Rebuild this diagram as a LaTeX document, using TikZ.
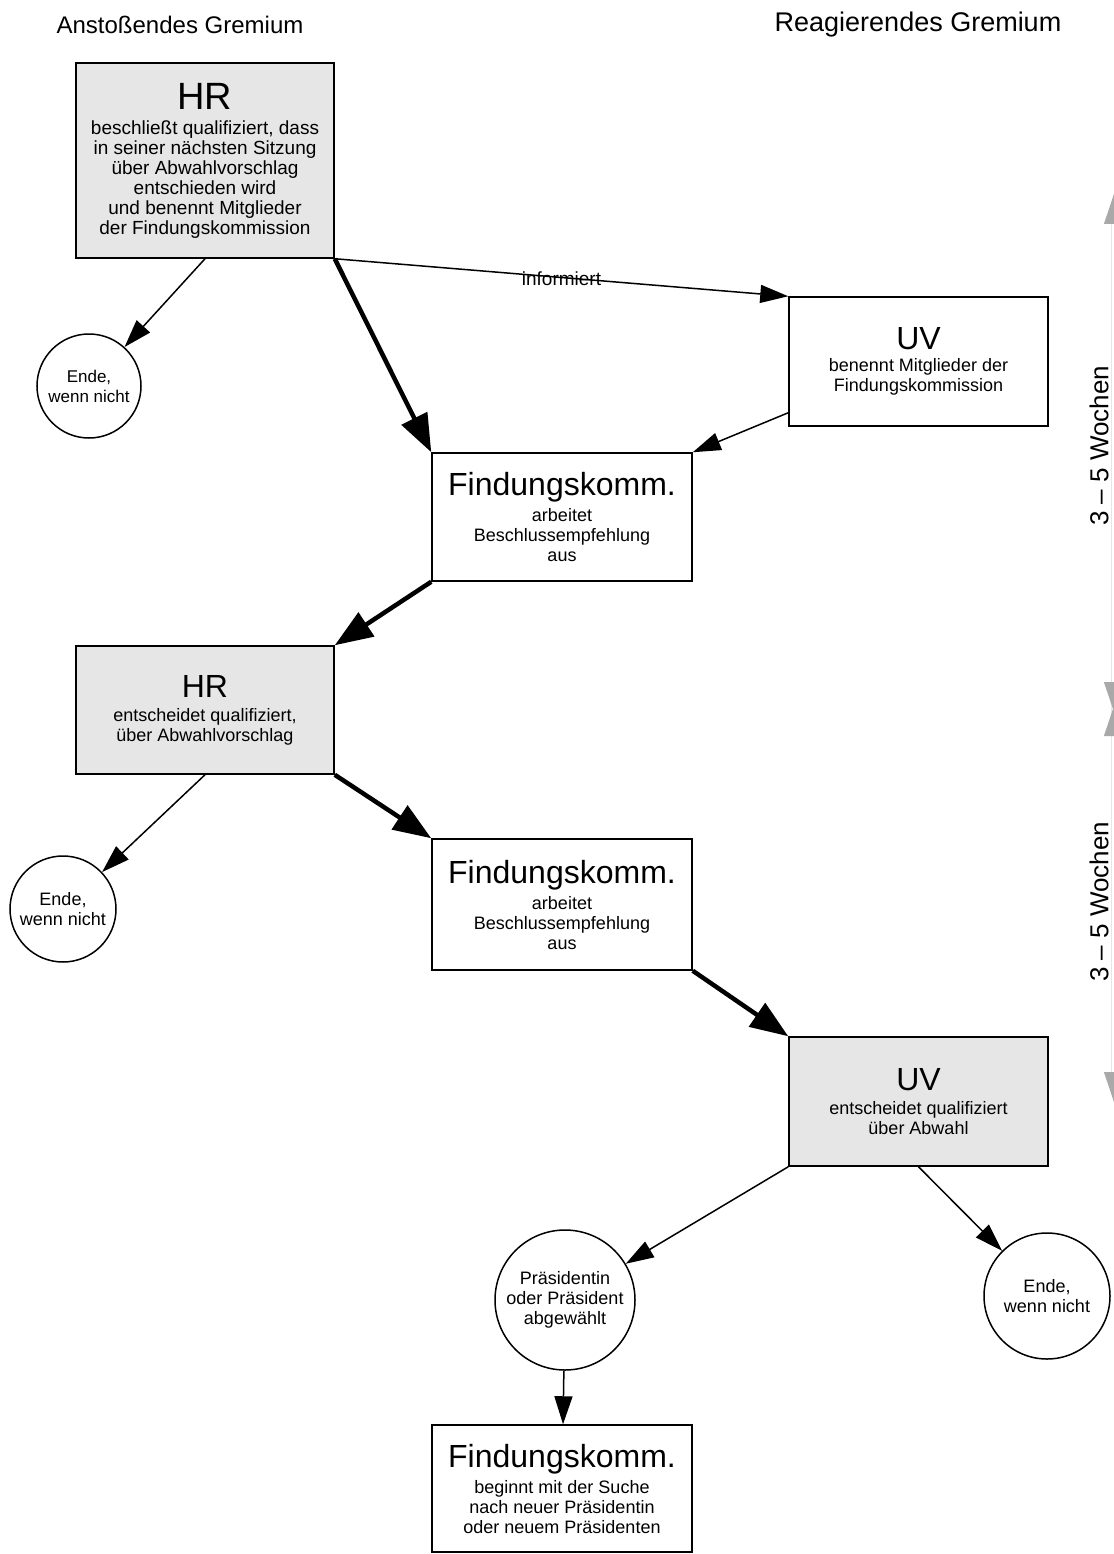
\documentclass[tikz,border=0pt]{standalone}
\usepackage{fontspec}
\setmainfont{Liberation Sans}
\usetikzlibrary{arrows.meta,calc}
\definecolor{boxgray}{HTML}{E6E6E6}
\definecolor{timegray}{HTML}{A9A9A9}
\definecolor{shaftgray}{HTML}{E6E6E6}
\begin{document}
\begin{tikzpicture}[x=1pt,y=-1pt,
  box/.style={draw, line width=1.5pt, align=center, inner sep=0pt,
    font=\fontsize{18}{20}\selectfont},
  grbox/.style={box, fill=boxgray},
  endc/.style={draw, circle, line width=1.5pt, align=center, inner sep=0pt,
    font=\fontsize{18}{20}\selectfont},
  header/.style={font=\fontsize{24}{28}\selectfont},
  thinarr/.style={line width=1.5pt, -{Triangle[length=28pt,width=18pt]}},
  thickarr/.style={line width=4.5pt, -{Triangle[length=38pt,width=28pt]}},
  timearr/.style={line width=1pt, draw=shaftgray,
    {Triangle[length=36pt,width=24pt,color=timegray]}-{Triangle[length=36pt,width=24pt,color=timegray]}},
  timeshaft/.style={line width=1pt, draw=shaftgray},
  timelabel/.style={rotate=90, font=\fontsize{26}{28}\selectfont},
]
\useasboundingbox (0,0) rectangle (1113,1554);

% headers
\node[header] (hl) at (180,25) {Anstoßendes Gremium};
\node[header, font=\fontsize{27}{30}\selectfont] (hrh) at (918,25) {Reagierendes Gremium};

% boxes
\node[grbox, minimum width=258pt, minimum height=195pt,
  font=\fontsize{19}{20}\selectfont] (hr1) at (205,160.5)
  {{\fontsize{38}{40}\selectfont HR}\\[5pt]
   beschließt qualifiziert, dass\\
   in seiner nächsten Sitzung\\
   über Abwahlvorschlag\\
   entschieden wird\\
   und benennt Mitglieder\\
   der Findungskommission};

\node[box, minimum width=259pt, minimum height=129pt] (uv1) at (918.5,361.5)
  {{\fontsize{32}{36}\selectfont UV}\\[2pt]
   benennt Mitglieder der\\
   Findungskommission};

\node[box, minimum width=260pt, minimum height=128pt] (fk1) at (562,517)
  {{\fontsize{32}{36}\selectfont Findungskomm.}\\[6pt]
   arbeitet\\
   Beschlussempfehlung\\
   aus};

\node[grbox, minimum width=258pt, minimum height=128pt] (hr2) at (205,710)
  {{\fontsize{32}{36}\selectfont HR}\\[4pt]
   entscheidet qualifiziert,\\
   über Abwahlvorschlag};

\node[box, minimum width=260pt, minimum height=131pt] (fk2) at (562,904.5)
  {{\fontsize{32}{36}\selectfont Findungskomm.}\\[6pt]
   arbeitet\\
   Beschlussempfehlung\\
   aus};

\node[grbox, minimum width=259pt, minimum height=129pt] (uv2) at (918.5,1101.5)
  {{\fontsize{32}{36}\selectfont UV}\\[4pt]
   entscheidet qualifiziert\\
   über Abwahl};

\node[box, minimum width=260pt, minimum height=127pt] (fk3) at (562,1488.5)
  {{\fontsize{32}{36}\selectfont Findungskomm.}\\[6pt]
   beginnt mit der Suche\\
   nach neuer Präsidentin\\
   oder neuem Präsidenten};

% circles
\node[endc, minimum size=104pt, font=\fontsize{17}{20}\selectfont] (c1) at (89,386) {Ende,\\wenn nicht};
\node[endc, minimum size=106pt] (c2) at (63,909) {Ende,\\wenn nicht};
\node[endc, minimum size=140pt] (c3) at (565,1300) {Präsidentin\\oder Präsident\\abgewählt};
\node[endc, minimum size=126pt] (c4) at (1047,1296) {Ende,\\wenn nicht};

% connectors
\draw[thinarr] (hr1.south) -- (c1);
\draw[thickarr] (hr1.south east) -- (fk1.north west);
\draw[thinarr] (hr1.south east) -- node[font=\fontsize{19}{20}\selectfont, yshift=-1pt] (inf) {informiert} (uv1.north west);
\coordinate (uvs) at ($(uv1.south west)+(0,-14)$);
\draw[thinarr] (uvs) -- (fk1.north east);
\draw[thickarr] (fk1.south west) -- (hr2.north east);
\draw[thinarr] (hr2.south) -- (c2);
\draw[thickarr] (hr2.south east) -- (fk2.north west);
\draw[thickarr] (fk2.south east) -- (uv2.north west);
\draw[thinarr] (uv2.south west) -- (c3);
\draw[thinarr] (uv2.south) -- (c4);
\draw[thinarr] (c3) -- (fk3);

% time span arrows
\coordinate (t1) at (1116,188);
\coordinate (b1) at (1116,718);
\coordinate (t2) at (1116,700);
\coordinate (b2) at (1116,1108);
\coordinate (s1) at (1111.5,205);
\coordinate (s2) at (1111.5,1090);
\draw[timeshaft] (s1) -- (s2);
\draw[timearr] (t1) -- (b1);
\draw[timearr] (t2) -- (b2);
\node[timelabel] (w1) at (1099,446) {3 – 5 Wochen};
\node[timelabel] (w2) at (1099,902) {3 – 5 Wochen};
\end{tikzpicture}
\end{document}
